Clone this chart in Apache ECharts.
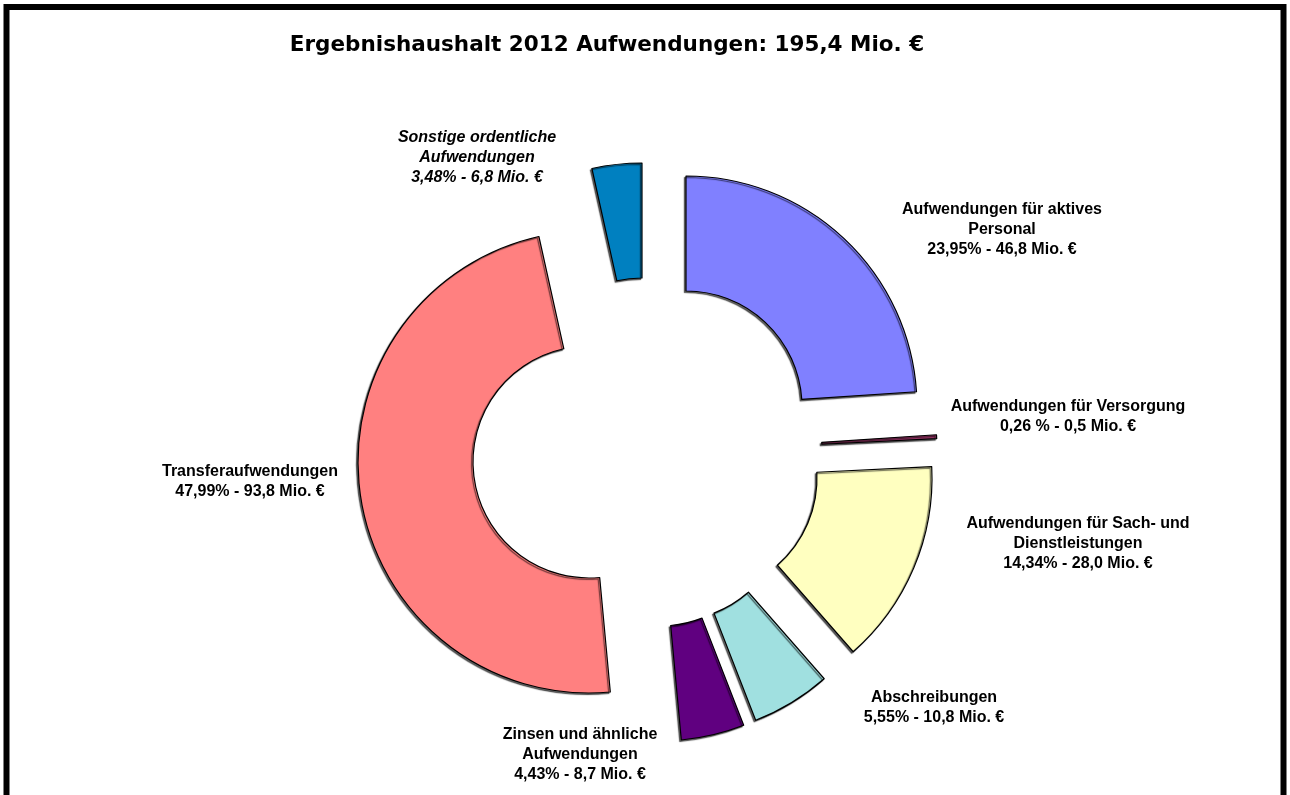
<!DOCTYPE html>
<html>
<head>
<meta charset="utf-8">
<script src="https://cdn.jsdelivr.net/npm/echarts@6/dist/echarts.min.js"></script>
<style>
html, body { margin: 0; padding: 0; background: #fff; }
#chart { width: 1290px; height: 795px; }
</style>
</head>
<body>
<div id="chart"></div>
<script>
// ---- data ----
const categories = [
  'Aufwendungen für aktives Personal',
  'Aufwendungen für Versorgung',
  'Aufwendungen für Sach- und Dienstleistungen',
  'Abschreibungen',
  'Zinsen und ähnliche Aufwendungen',
  'Transferaufwendungen',
  'Sonstige ordentliche Aufwendungen'
];
const nameLines = [
  'Aufwendungen für aktives\nPersonal',
  'Aufwendungen für Versorgung',
  'Aufwendungen für Sach- und\nDienstleistungen',
  'Abschreibungen',
  'Zinsen und ähnliche\nAufwendungen',
  'Transferaufwendungen',
  'Sonstige ordentliche\nAufwendungen'
];
const shares = [23.95, 0.26, 14.34, 5.55, 4.43, 47.99, 3.48];
const shareText = ['23,95%', '0,26 %', '14,34%', '5,55%', '4,43%', '47,99%', '3,48%'];
const amounts = [46.8, 0.5, 28.0, 10.8, 8.7, 93.8, 6.8];
const titleText = 'Ergebnishaushalt 2012 Aufwendungen: 195,4 Mio. €';

// ---- layout / style ----
const colors = ['#8080ff', '#993366', '#ffffc0', '#a0e0e0', '#600080', '#ff8080', '#0080c0'];
const sliceCenters = [[686, 407], [706, 450], [701, 478], [672, 505], [660, 510], [589, 462], [642, 394]];
const labelPos = [[1002, 230], [1068, 417], [1078, 544], [934, 708], [580, 755], [250, 482], [477, 158]];
const radii = [116, 231];

const series = categories.map((cat, i) => ({
  type: 'pie',
  name: cat,
  center: sliceCenters[i],
  radius: radii,
  startAngle: 90,
  clockwise: true,
  avoidLabelOverlap: false,
  silent: true,
  animation: false,
  label: {
    show: false,
    position: 'outside',
    fontFamily: 'Liberation Sans, Arial, sans-serif',
    fontSize: 16,
    fontWeight: 'bold',
    lineHeight: 20,
    color: '#000',
    align: 'center'
  },
  labelLine: { show: false },
  labelLayout: function () {
    return { x: labelPos[i][0], y: labelPos[i][1], align: 'center', verticalAlign: 'middle' };
  },
  data: shares.map((v, j) => ({
    value: v,
    name: categories[j],
    itemStyle: j === i
      ? { color: colors[j], borderColor: '#000', borderWidth: 1.2,
          shadowColor: 'rgba(0,0,0,0.6)', shadowOffsetX: -1.5, shadowOffsetY: 1.5, shadowBlur: 1 }
      : { color: 'rgba(0,0,0,0)', borderWidth: 0 },
    label: j === i
      ? { show: true, fontStyle: j === 6 ? 'italic' : 'normal',
          formatter: nameLines[j] + '\n' + shareText[j] + ' - ' + amounts[j].toFixed(1).replace('.', ',') + ' Mio. €' }
      : { show: false }
  }))
}));

const chart = echarts.init(document.getElementById('chart'), null, { renderer: 'canvas' });
chart.setOption({
  backgroundColor: '#fff',
  animation: false,
  title: {
    text: titleText,
    left: 602,
    top: 29,
    textAlign: 'center',
    textStyle: { fontFamily: 'DejaVu Sans', fontWeight: 'bold', fontSize: 21.5, color: '#000' }
  },
  graphic: [
    { type: 'rect', silent: true, z: 100,
      shape: { x: 6.5, y: 7, width: 1277, height: 900 },
      style: { fill: 'none', stroke: '#000', lineWidth: 6 } }
  ],
  series: series
});
</script>
</body>
</html>
